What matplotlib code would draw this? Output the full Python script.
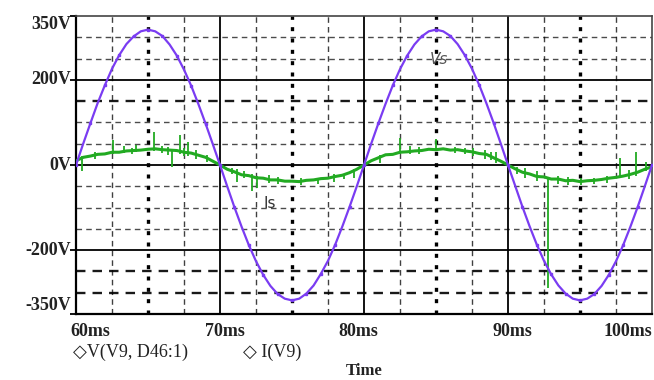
import numpy as np
import matplotlib.pyplot as plt
from matplotlib.transforms import blended_transform_factory

# time axis in ms (0.5 ms steps)
t = np.arange(60, 100.01, 0.5)

# source voltage Vs (V)
vs = [0, 50, 98, 145, 187, 226, 258, 284, 302, 314, 318, 314, 303, 283, 257, 224, 186, 143, 97, 49,
      0, -50, -99, -145, -188, -226, -258, -284, -303, -314, -318, -314, -302, -283, -256, -225, -187, -144, -98, -50,
      0, 50, 98, 144, 187, 225, 257, 283, 302, 314, 318, 314, 303, 284, 258, 226, 188, 145, 99, 50,
      0, -49, -98, -144, -187, -225, -257, -283, -302, -314, -318, -314, -303, -284, -258, -226, -188, -145, -99, -50, 0]

# source current Is (plotted on the same scale)
is_ = [10, 18, 21, 25, 26, 30, 30, 33, 34, 35, 37, 38, 36, 35, 34, 30, 28, 23, 18, 9,
       0, -10, -16, -23, -25, -30, -31, -35, -35, -38, -38, -39, -36, -35, -32, -31, -27, -24, -18, -10,
       0, 10, 17, 24, 25, 30, 31, 33, 34, 37, 36, 38, 35, 36, 33, 31, 27, 25, 17, 9,
       0, -9, -17, -21, -27, -28, -33, -33, -37, -36, -39, -37, -36, -34, -31, -29, -26, -22, -17, -10, -4]

# switching spikes on Is: time, low, high
spike_t = [60.4, 61.3, 62.6, 63.3, 63.9, 64.2, 65.4, 66.0, 66.4, 66.7, 67.2, 67.5, 67.8, 68.3, 69.1,
           70.8, 71.2, 71.7, 72.2, 72.6, 73.4, 74.0, 75.6, 76.8, 77.9, 78.6, 79.3,
           81.1, 82.5, 83.2, 83.8, 85.0, 86.3, 87.0, 87.6, 88.4, 88.8, 89.2,
           90.6, 91.2, 92.0, 92.8, 93.5, 94.2, 95.1, 96.0, 96.9, 97.8, 98.4, 98.9, 99.6]
spike_lo = [-15, 14, 25, 28, 26, 30, 33, 28, 24, -5, 25, 22, 20, 15, 8,
            -20, -40, -30, -60, -55, -42, -45, -48, -44, -40, -34, -30,
            5, 25, 25, 27, 35, 28, 26, 20, 15, 12, 5,
            -22, -30, -38, -290, -45, -48, -46, -45, -42, -28, -32, -25, -15]
spike_hi = [20, 30, 58, 45, 40, 48, 78, 45, 42, 38, 70, 40, 55, 35, 24,
            -6, -10, -14, -22, -25, -24, -28, -30, -30, -20, -20, -10,
            24, 63, 45, 42, 62, 42, 40, 40, 35, 30, 30,
            -4, -8, -15, -28, -25, -28, -30, -30, -26, 16, -12, 30, 8]

x_ticks = [60, 70, 80, 90, 100]
x_labels = ['60ms', '70ms', '80ms', '90ms', '100ms']
y_ticks = [350, 200, 0, -200, -350]
y_labels = ['350V', '200V', '0V', '-200V', '-350V']

serif = ['Liberation Serif', 'DejaVu Serif']
purple = '#7a3cf2'
green = '#22aa22'
ink = '#222222'

fig = plt.figure(figsize=(6.54, 3.80), dpi=100)
ax = fig.add_axes([76/654, 1 - 314/380, (652 - 76)/654, (314 - 16)/380])
ax.set_xlim(60, 100)
ax.set_ylim(-350, 350)

# grid: solid majors, dashed minors
for y in [200, 0, -200]:
    ax.axhline(y, color='black', lw=1.3, zorder=1)
for x in [70, 80, 90]:
    ax.axvline(x, color='black', lw=1.3, zorder=1)
for y in [300, 250, 150, 100, 50, -50, -100, -150, -250, -300]:
    bold = y in (150, -250, -300)
    ax.axhline(y, color='black', lw=1.7 if bold else 1.0, ls=(0, (4, 3)),
               alpha=0.9 if bold else 0.7, zorder=1)
for x in np.arange(62.5, 100, 2.5):
    if x % 10 == 0:
        continue
    if x % 5 == 0:
        ax.axvline(x, color='black', lw=2.4, ls=(0, (1.2, 2.2)), zorder=1)
    else:
        ax.axvline(x, color='black', lw=1.0, ls=(0, (4, 3)), alpha=0.75, zorder=1)

# traces
ax.vlines(spike_t, spike_lo, spike_hi, color=green, lw=1.3, zorder=3)
ax.plot(t, is_, color=green, lw=2.2, zorder=3)
ax.plot(t, vs, color=purple, lw=1.6, marker='s', markersize=1.8, markevery=2, zorder=4)

ax.text(84.6, 238, 'Vs', color='#555555', fontsize=11, style='italic', zorder=5)
ax.text(73.0, -100, 'Is', color='#333333', fontsize=11, zorder=5)

# frame and ticks
for side in ['left', 'bottom']:
    ax.spines[side].set_linewidth(1.6)
    ax.spines[side].set_color('black')
for side in ['top', 'right']:
    ax.spines[side].set_linewidth(1.2)
    ax.spines[side].set_color('#444444')
ax.set_xticks(x_ticks)
ax.set_xticklabels([])
ax.set_yticks(y_ticks)
ax.set_yticklabels([])
ax.tick_params(axis='y', length=4, width=1.3, direction='out')
ax.tick_params(axis='x', length=0)

# tick labels placed like the PSpice output
x_pos = [61.0, 70.35, 79.6, 90.3, 100.05]
for xp, lab in zip(x_pos, x_labels):
    ha = 'right' if lab == '100ms' else 'center'
    ax.text(xp, -0.06, lab, transform=ax.get_xaxis_transform(), ha=ha, va='center',
            fontsize=13, fontweight='bold', family=serif, color=ink)

y_pos = [330, 200, 0, -200, -330]
ytr = blended_transform_factory(fig.transFigure, ax.transData)
for yp, lab in zip(y_pos, y_labels):
    fig.text(71/654, yp, lab, transform=ytr, ha='right', va='center', fontsize=13,
             fontweight='bold', family=serif, color=ink)

fig.text(73/654, 1 - 352/380, '\u25c7V(V9, D46:1)', ha='left', va='center', fontsize=13,
         family=serif + ['DejaVu Sans'], color=ink)
fig.text(243/654, 1 - 352/380, '\u25c7 I(V9)', ha='left', va='center', fontsize=13,
         family=serif + ['DejaVu Sans'], color=ink)
fig.text(364/654, 1 - 371/380, 'Time', ha='center', va='center', fontsize=12,
         fontweight='bold', family=serif, color=ink)

fig.savefig('out.png', dpi=100)
